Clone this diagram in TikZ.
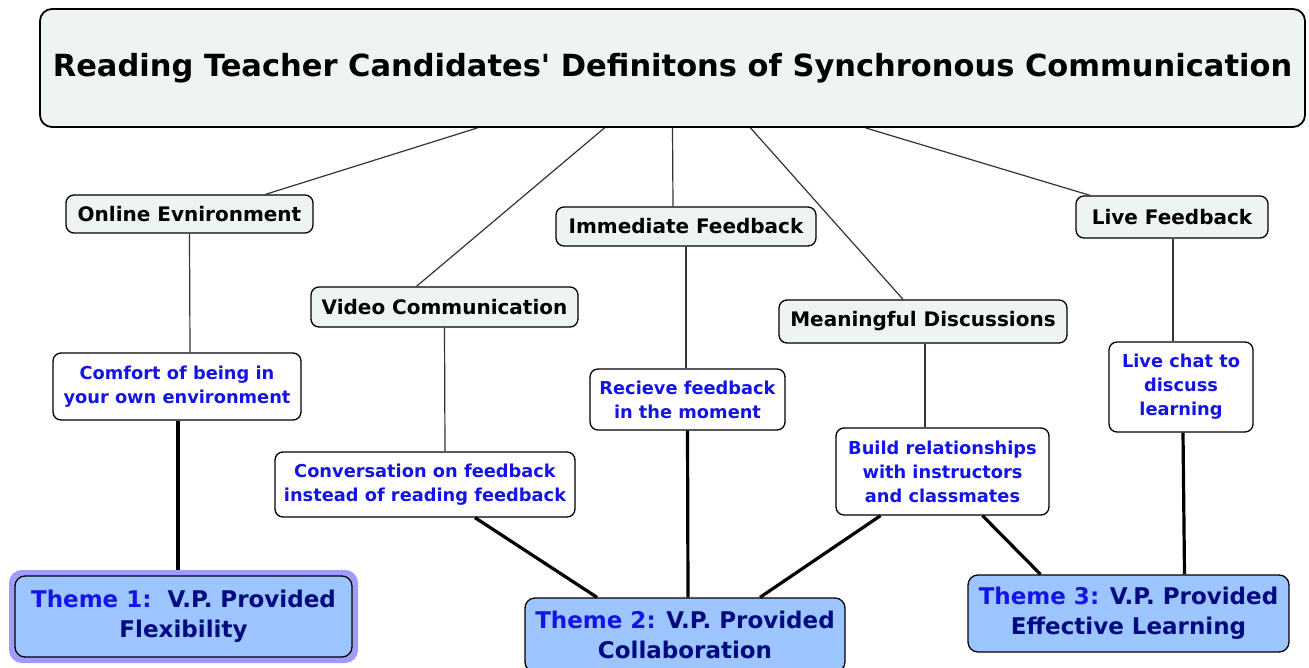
\documentclass[tikz,border=0pt]{standalone}
\usepackage{fontspec}
\setmainfont{DejaVu Sans}
\definecolor{boxgray}{HTML}{EEF3F4}
\definecolor{themeblue}{HTML}{9DC5FF}
\definecolor{glow}{HTML}{A09CFF}
\definecolor{linkblue}{HTML}{1414E6}
\definecolor{navy}{HTML}{000A80}
\begin{document}
\begin{tikzpicture}[
  x = 1pt, y = -1pt,
  every node/.style = {draw, rounded corners = 8pt, line width = 1.3pt, align = center, font = \bfseries},
  root/.style = {fill = boxgray, rounded corners = 12pt, line width = 1.8pt, font = \fontsize{30.5}{34}\selectfont\bfseries},
  topic/.style = {fill = boxgray, font = \fontsize{20}{22}\selectfont\bfseries},
  detail/.style = {fill = white, text = linkblue, font = \fontsize{17.8}{24}\selectfont\bfseries},
  theme/.style = {fill = themeblue, text = navy, rounded corners = 10pt, font = \fontsize{23}{30}\selectfont\bfseries},
  branch/.style = {draw = black!80, line width = 1.2pt},
  trunk/.style = {draw = black, line width = 3.2pt},
  ]
  \useasboundingbox (0,0) rectangle (1309,668);
  \node[root, minimum width = 1265pt, minimum height = 118pt] (title) at (672.5,68)
    {Reading Teacher Candidates\textquotesingle\ Definitons of Synchronous Communication};

  \node[topic, minimum width = 247pt, minimum height = 38pt] (online) at (189.5,214) {Online Evnironment};
  \node[topic, minimum width = 260pt, minimum height = 39pt] (immediate) at (686,226.5) {Immediate Feedback};
  \node[topic, minimum width = 192pt, minimum height = 42pt] (live) at (1172,217) {Live Feedback};
  \node[topic, minimum width = 267pt, minimum height = 40pt] (video) at (444.5,307) {Video Communication};
  \node[topic, minimum width = 288pt, minimum height = 43pt] (meaningful) at (923,321.5) {Meaningful Discussions};

  \node[detail, minimum width = 248pt, minimum height = 67pt] (comfort) at (177,386.5)
    {Comfort of being in\\your own environment};
  \node[detail, minimum width = 195pt, minimum height = 61pt] (recieve) at (687.5,399.5)
    {Recieve feedback\\in the moment};
  \node[detail, minimum width = 144pt, minimum height = 90pt] (livechat) at (1181,387)
    {Live chat to\\discuss\\learning};
  \node[detail, minimum width = 300pt, minimum height = 65pt] (conversation) at (425,484.5)
    {Conversation on feedback\\instead of reading feedback};
  \node[detail, minimum width = 213pt, minimum height = 87pt] (build) at (942.5,471.5)
    {Build relationships\\with instructors\\and classmates};

  \node[theme, draw = glow, line width = 6pt, minimum width = 343pt, minimum height = 87pt] (themeglow) at (183.5,616.5) {};
  \node[theme, minimum width = 337pt, minimum height = 81pt] (theme1) at (183.5,616.5)
    {\textcolor{linkblue}{Theme 1:}\ \ V.P. Provided\\Flexibility};
  \node[theme, minimum width = 320pt, minimum height = 74pt] (theme2) at (685,635)
    {\textcolor{linkblue}{Theme 2:} V.P. Provided\\Collaboration};
  \node[theme, minimum width = 321pt, minimum height = 77pt] (theme3) at (1128.5,613.5)
    {\textcolor{linkblue}{Theme 3:} V.P. Provided\\Effective Learning};

  \draw[branch] ([xshift = -195pt]title.south) -- ([xshift = 76pt]online.north);
  \draw[branch] ([xshift = -68pt]title.south) -- ([xshift = -28pt]video.north);
  \draw[branch] (title.south) -- ([xshift = -13pt]immediate.north);
  \draw[branch] ([xshift = 78pt]title.south) -- ([xshift = -20pt]meaningful.north);
  \draw[branch] ([xshift = 193pt]title.south) -- ([xshift = -82pt]live.north);
  \draw[branch] (online.south) -- ([xshift = 13pt]comfort.north);
  \draw[branch] (video.south) -- ([xshift = 20pt]conversation.north);
  \draw[branch] (immediate.south) -- ([xshift = -1.5pt]recieve.north);
  \draw[branch] ([xshift = 2pt]meaningful.south) -- ([xshift = -17.5pt]build.north);
  \draw[branch] ([xshift = 1pt]live.south) -- ([xshift = -8pt]livechat.north);

  \draw[trunk] ([xshift = 1pt]comfort.south) -- ([xshift = -5.5pt]themeglow.north);
  \draw[trunk] ([xshift = 50pt]conversation.south) -- ([xshift = -88pt]theme2.north);
  \draw[trunk] (recieve.south) -- ([xshift = 3pt]theme2.north);
  \draw[trunk] ([xshift = -62pt]build.south) -- ([xshift = 75pt]theme2.north);
  \draw[trunk] ([xshift = 40pt]build.south) -- ([xshift = -88pt]theme3.north);
  \draw[trunk] ([xshift = 2pt]livechat.south) -- ([xshift = 56pt]theme3.north);
\end{tikzpicture}
\end{document}
